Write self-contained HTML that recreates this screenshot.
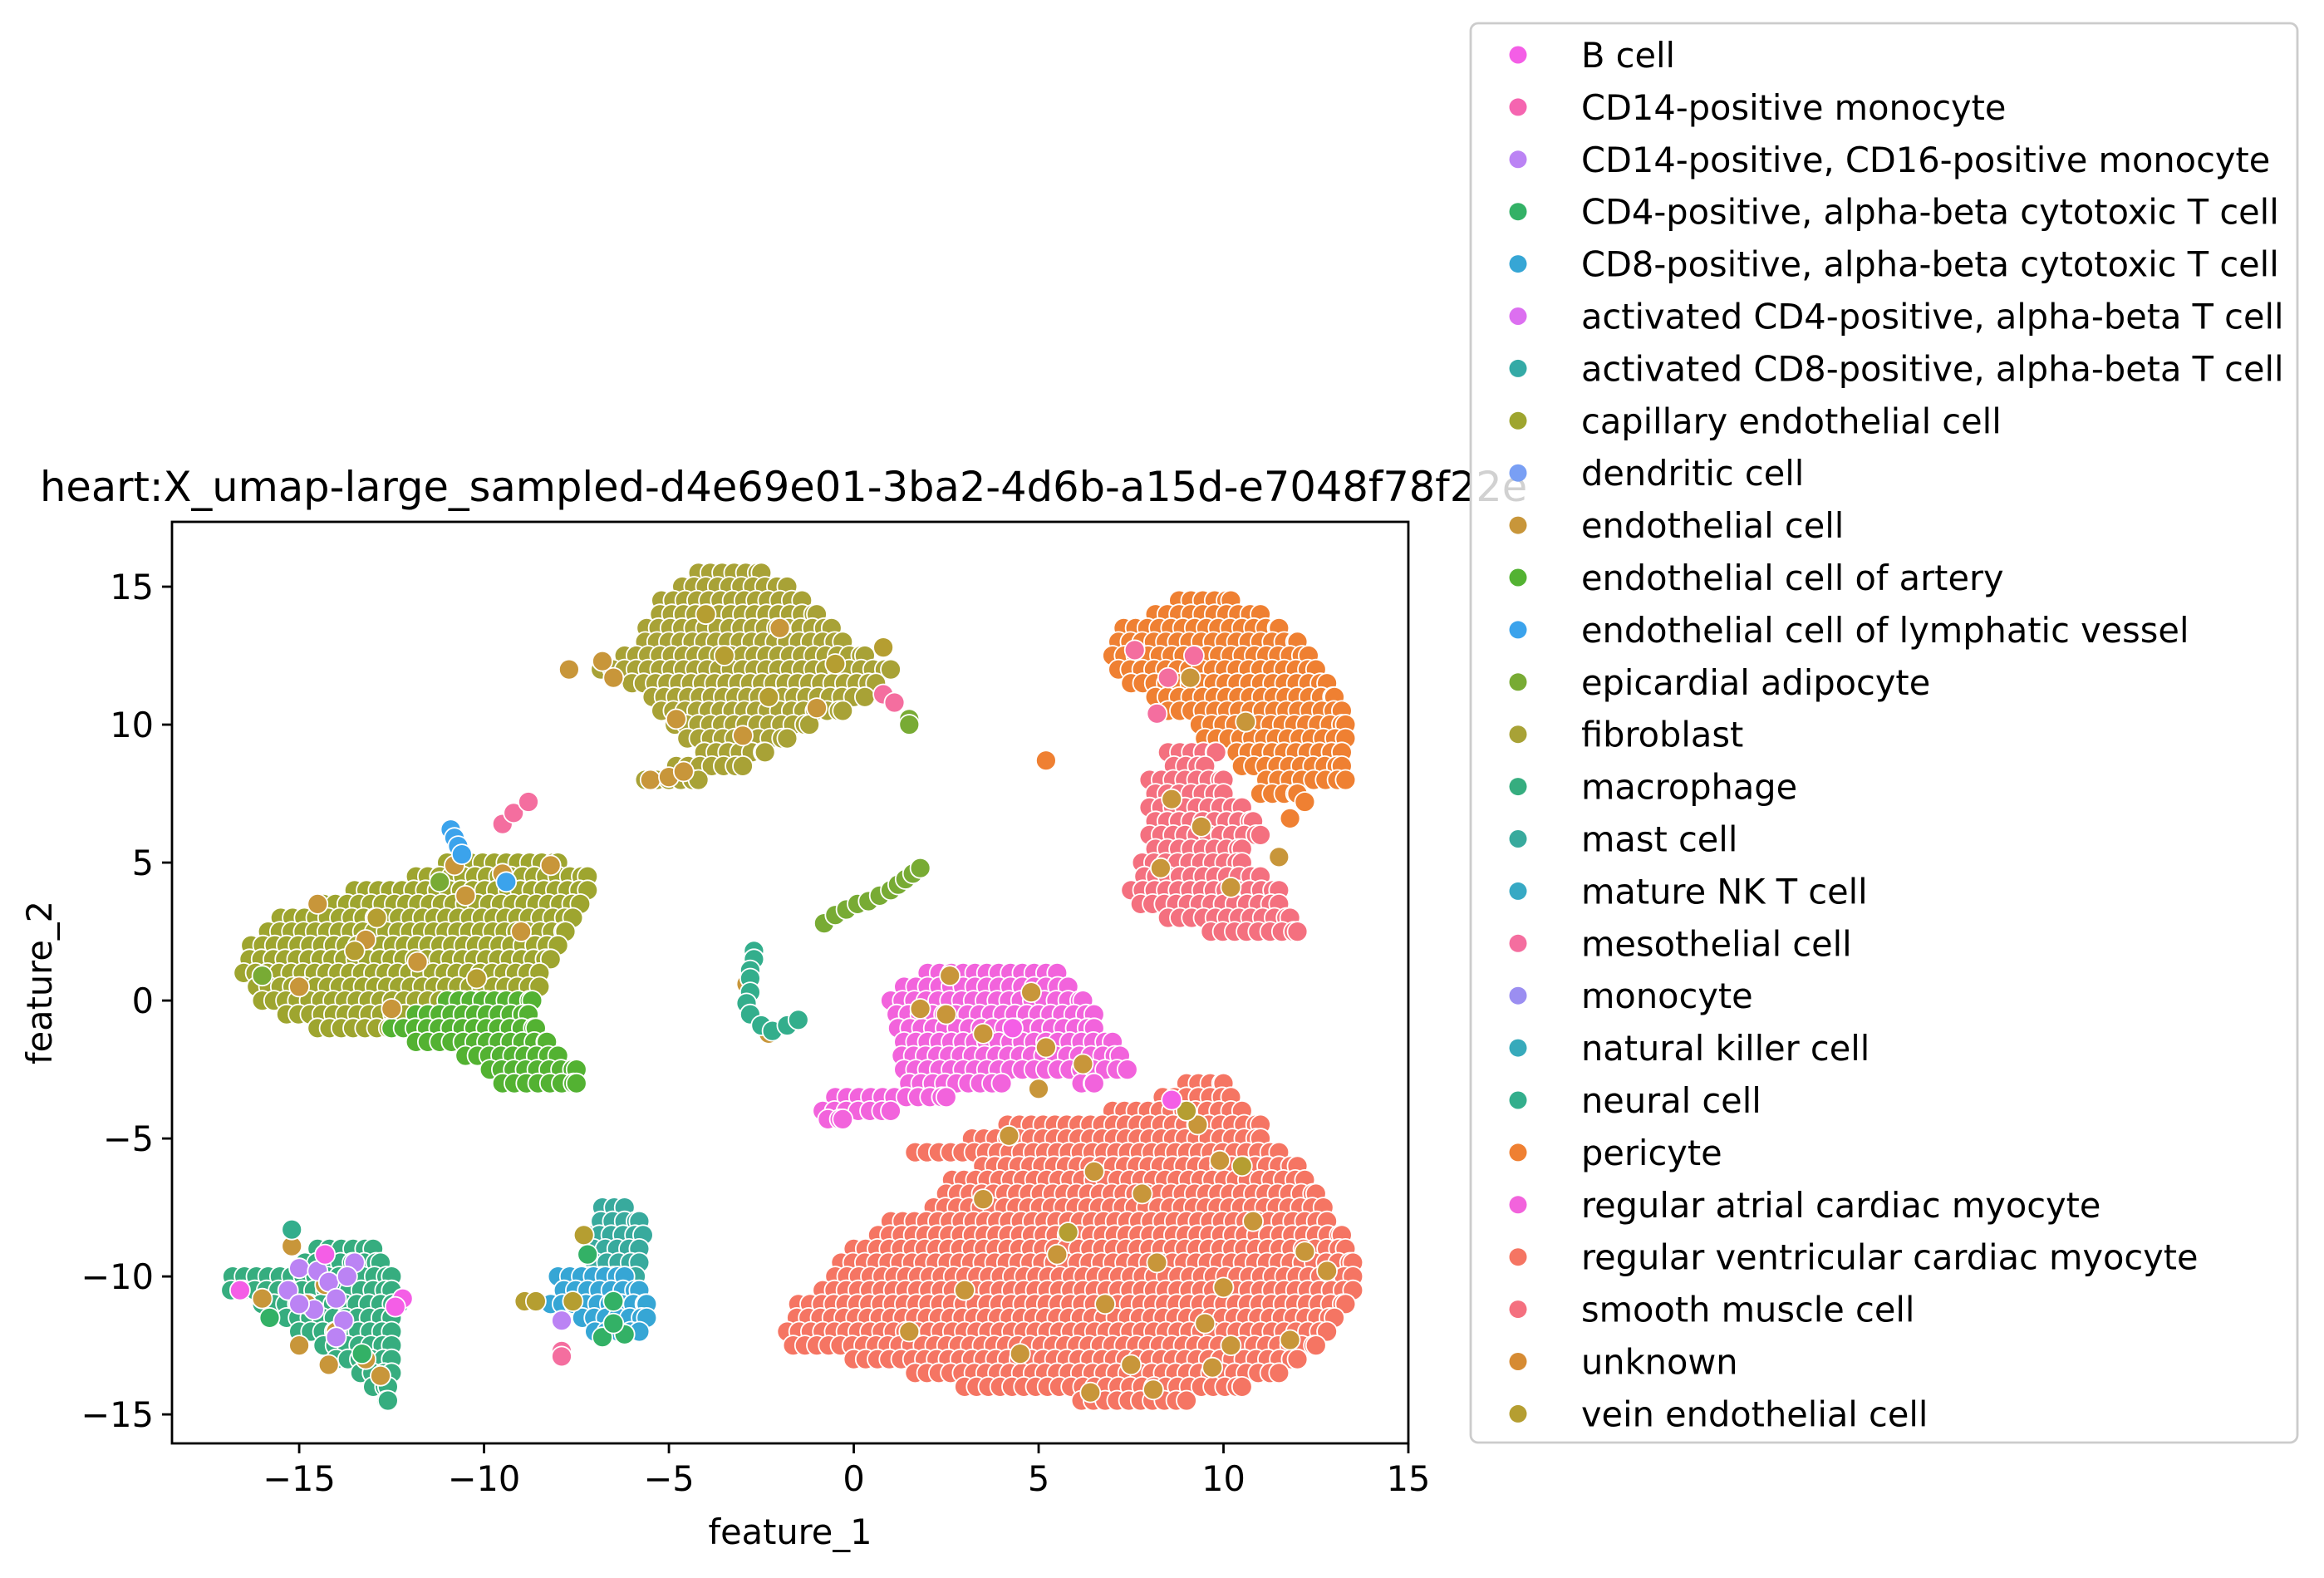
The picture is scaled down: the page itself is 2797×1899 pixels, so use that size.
<!DOCTYPE html>
<html><head><meta charset="utf-8"><style>
html,body{margin:0;padding:0;background:#fff;}
svg{display:block;font-family:"DejaVu Sans","Liberation Sans",sans-serif;}
</style></head><body>
<svg id="chart" width="2797" height="1899" viewBox="0 0 2797 1899" xmlns="http://www.w3.org/2000/svg">
<text x="48" y="603" font-size="49.5" fill="#000">heart:X_umap-large_sampled-d4e69e01-3ba2-4d6b-a15d-e7048f78f22e</text>
<g id="plot"></g>
<g id="axes"></g>
<g id="legend"></g>
</svg>
<script>
const categories = ["B cell","CD14-positive monocyte","CD14-positive, CD16-positive monocyte","CD4-positive, alpha-beta cytotoxic T cell","CD8-positive, alpha-beta cytotoxic T cell","activated CD4-positive, alpha-beta T cell","activated CD8-positive, alpha-beta T cell","capillary endothelial cell","dendritic cell","endothelial cell","endothelial cell of artery","endothelial cell of lymphatic vessel","epicardial adipocyte","fibroblast","macrophage","mast cell","mature NK T cell","mesothelial cell","monocyte","natural killer cell","neural cell","pericyte","regular atrial cardiac myocyte","regular ventricular cardiac myocyte","smooth muscle cell","unknown","vein endothelial cell"];
const colors = ["#f45ee6","#f565b0","#bb83f4","#33b166","#36a6d5","#dc6ff0","#34aaa6","#9ea52f","#799ff4","#c8963a","#53b232","#3ba3ec","#78ab34","#a8a236","#36ad7f","#38aa9d","#37a9c4","#f46e9f","#9b8ef1","#37aabb","#33ae8c","#ef8032","#f263dc","#f57563","#f4707f","#d68b33","#b59e31"];
const xTicks = [-15,-10,-5,0,5,10,15];
const yTicks = [-15,-10,-5,0,5,10,15];
// cluster spans: [y, xStart, xEnd]
const fibroblastSpans = [[15.5,-4.2,-2.5],[15,-4.8,-1.8],[14.5,-5.2,-1.4],[14,-5.4,-1.0],[13.5,-5.6,-0.6],[13,-5.8,-0.3],[12.5,-6.2,0.3],[12,-7,1.0],[11.5,-6.0,0.6],[11,-5.6,0.3],[10.5,-5.2,-0.3],[10,-5,-1.2],[9.5,-4.5,-1.8],[9,-4.2,-2.4],[8.5,-4.8,-3],[8,-5.8,-4.2]];
const capillarySpans = [[5,-11,-8],[4.5,-12,-7.2],[4,-13.5,-7.2],[3.5,-14.5,-7.4],[3,-15.5,-7.6],[2.5,-16,-7.8],[2,-16.3,-8],[1.5,-16.5,-8.2],[1,-16.5,-8.5],[0.5,-16.3,-8.5],[0,-16,-9.5],[-0.5,-15.5,-11.5],[-1,-14.5,-12.5]];
const arterySpans = [[0,-11,-8.7],[-0.5,-12,-8.8],[-1,-12.5,-8.6],[-1.5,-12,-8.3],[-2,-10.5,-8],[-2.5,-10,-7.5],[-3,-9.5,-7.5]];
const atrialSpans = [[1,2,5.5],[0.5,1.2,5.8],[0,1,6.2],[-0.5,1,6.5],[-1,1.2,6.5],[-1.5,1.2,7],[-2,1.3,7.2],[-2.5,1.2,7.4],[-3,1.5,4.0],[-3,6,6.5],[-3.5,-0.5,2.5],[-4,-1,1],[-4.3,-0.7,-0.3]];
const ventricularSpans = [[-3,9,10],[-3.5,8.2,10.2],[-4,7,10.5],[-4.5,4,11],[-5,3.2,11],[-5.5,1.5,11.5],[-6,3.5,12],[-6.5,2.5,12.2],[-7,2.5,12.5],[-7.5,2,12.7],[-8,1,12.8],[-8.5,0.5,13.2],[-9,0,13.3],[-9.5,-0.5,13.5],[-10,-0.5,13.5],[-10.5,-1,13.5],[-11,-1.5,13.3],[-11.5,-1.7,13],[-12,-1.8,12.8],[-12.5,-1.8,12.5],[-13,0,12],[-13.5,1.5,11.5],[-14,3,10.5],[-14.5,6,9]];
const pericyteSpans = [[14.5,8.8,10.2],[14,8,11],[13.5,7.3,11.5],[13,7,12],[12.5,7,12.3],[12,7,12.5],[11.5,7.5,12.8],[11,8,13],[10.5,8.5,13.2],[10,9.2,13.3],[9.5,9.5,13.3],[9,10.2,13.2],[8.5,10.5,13.2],[8,11,13.3],[7.5,11,12]];
const smoothSpans = [[9,8.5,9.8],[8.5,8.5,9.5],[8,8,10],[7.5,8,10],[7,8,10.5],[6.5,8,10.8],[6,8,11],[5.5,8,10.5],[5,7.8,10.5],[4.5,7.7,11],[4,7.5,11.5],[3.5,7.6,11.5],[3,8.5,11.8],[2.5,9.5,12]];
const macrophageSpans = [[-9,-14.5,-13],[-9.5,-15,-12.8],[-10,-16.8,-12.5],[-10.5,-17,-12.5],[-11,-16,-12.3],[-11.5,-15.5,-12.5],[-12,-15,-12.5],[-12.5,-14.5,-12.5],[-13,-14,-12.5],[-13.5,-13.5,-12.5],[-14,-13,-12.6],[-14.5,-12.8,-12.6]];
const mastSpans = [[-7.5,-6.8,-6.2],[-8,-7,-5.8],[-8.5,-7.2,-5.7],[-9,-7.2,-5.8],[-9.5,-7,-5.8],[-10,-7.3,-5.9]];
const cd8Spans = [[-10,-8,-6.2],[-10.5,-8,-5.8],[-11,-8.2,-5.6],[-11.5,-7.5,-5.6],[-12,-7,-5.8]];
// individual points: [x, y]
const endothelialPts = [[-7.7,12],[-6.5,11.7],[-4.8,10.2],[-5.5,8.0],[-5.0,8.1],[-4.6,8.3],[-3,9.6],[-1,10.6],[-6.8,12.3],[-2,13.5],[-14.5,3.5],[-13.2,2.2],[-11.8,1.4],[-10.5,3.8],[-9.5,4.6],[-8.2,4.9],[-12.5,-0.3],[-15,0.5],[-9,2.5],[-10.8,4.9],[-2.9,0.6],[-2.3,-1.2],[2.5,-0.5],[3.5,-1.2],[5.2,-1.7],[4.8,0.3],[6.2,-2.3],[5,-3.2],[2.6,0.9],[1.8,-0.3],[9.3,-4.5],[9.9,-5.8],[6.5,-6.2],[7.8,-7.0],[3.5,-7.2],[5.5,-9.2],[8.2,-9.5],[10.8,-8],[12.2,-9.1],[3,-10.5],[6.8,-11],[9.5,-11.7],[1.5,-12],[4.5,-12.8],[7.5,-13.2],[10.2,-12.5],[11.8,-12.3],[8.1,-14.1],[6.4,-14.2],[9.7,-13.3],[12.8,-9.8],[4.2,-4.9],[10,-10.4],[8.3,4.8],[9.4,6.3],[11.5,5.2],[10.2,4.1],[8.6,7.3],[9.1,11.7],[10.6,10.1],[-15.2,-8.9],[-14.8,-11],[-14,-12],[-15,-12.5],[-13.2,-13],[-14.2,-13.2],[-12.8,-13.6],[-16,-10.8],[-14.3,-10.3]];
const veinPts = [[-3.5,12.5],[-2.3,11],[-4,14],[-0.5,12.2],[0.8,12.8],[-13.5,1.8],[-10.2,0.8],[-12.9,3],[-8.9,-10.9],[-8.6,-10.9],[-7.3,-8.5],[-7.6,-10.9],[9,-4],[5.8,-8.4],[10.5,-6]];
const mesoPts = [[0.8,11.1],[1.1,10.8],[-9.5,6.4],[-9.2,6.8],[-8.8,7.2],[-7.9,-12.7],[-7.9,-12.9],[7.6,12.7],[8.5,11.7],[8.2,10.4],[9.2,12.5]];
const epicardialPts = [[1.5,10.2],[1.5,10.0],[-0.8,2.8],[-0.5,3.1],[-0.2,3.3],[0.1,3.5],[0.4,3.6],[0.7,3.8],[1.0,4.0],[1.2,4.2],[1.4,4.4],[1.6,4.6],[1.8,4.8],[-16,0.9],[-11.2,4.3]];
const neuralPts = [[-2.7,1.8],[-2.7,1.5],[-2.8,1.1],[-2.8,0.8],[-2.8,0.3],[-2.9,-0.1],[-2.8,-0.5],[-2.5,-0.9],[-2.2,-1.1],[-1.8,-0.9],[-1.5,-0.7],[-15.2,-8.3]];
const lymphPts = [[-10.9,6.2],[-10.8,5.9],[-10.7,5.6],[-10.6,5.3],[-9.4,4.3]];
const lavenderPts = [[-15,-9.7],[-14.5,-9.8],[-14.2,-10.2],[-15.3,-10.5],[-14,-10.8],[-14.6,-11.2],[-13.8,-11.6],[-15,-11],[-13.5,-9.5],[-14,-12.2],[-13.7,-10],[-7.9,-11.6]];
const bcellPts = [[-16.6,-10.5],[-12.2,-10.8],[-12.4,-11.1],[-14.3,-9.2],[8.6,-3.6],[4.3,-1]];
const cd4Pts = [[-6.5,-10.9],[-6.8,-12.2],[-6.2,-12.1],[-6.5,-11.7],[-7.2,-9.2],[-13.3,-12.8],[-15.8,-11.5]];
const pericytePts = [[5.2,8.7],[12.2,7.2],[11.8,6.6]];

const X0=207, X1=1695, Y0=628, Y1=1737;
const xMin=-18.44, xMax=15, yMin=-16.05, yMax=17.35;
function sx(v){return X0+(v-xMin)/(xMax-xMin)*(X1-X0);}
function sy(v){return Y1-(v-yMin)/(yMax-yMin)*(Y1-Y0);}
const NS="http://www.w3.org/2000/svg";
const plot=document.getElementById('plot');
function dot(x,y,ci){
  const c=document.createElementNS(NS,'circle');
  c.setAttribute('cx',sx(x).toFixed(1));c.setAttribute('cy',sy(y).toFixed(1));
  c.setAttribute('r',12);c.setAttribute('fill',colors[ci]);
  c.setAttribute('stroke','#fff');c.setAttribute('stroke-width',1.8);
  
  
  plot.appendChild(c);
}
function spans(list,ci){
  list.forEach((s,ri)=>{
    const off=(ri%2)*0.16;
    for(let x=s[1]+off;x<=s[2]+0.001;x+=0.32){dot(x,s[0],ci);}
    dot(s[2],s[0],ci);
  });
}
function pts(list,ci){list.forEach(p=>dot(p[0],p[1],ci));}
const idx=n=>categories.indexOf(n);
spans(fibroblastSpans,idx("fibroblast"));
spans(capillarySpans,idx("capillary endothelial cell"));
spans(arterySpans,idx("endothelial cell of artery"));
spans(pericyteSpans,idx("pericyte"));
spans(smoothSpans,idx("smooth muscle cell"));
spans(atrialSpans,idx("regular atrial cardiac myocyte"));
spans(ventricularSpans,idx("regular ventricular cardiac myocyte"));
spans(macrophageSpans,idx("macrophage"));
spans(mastSpans,idx("mast cell"));
spans(cd8Spans,idx("CD8-positive, alpha-beta cytotoxic T cell"));
pts(endothelialPts,idx("endothelial cell"));
pts(veinPts,idx("vein endothelial cell"));
pts(mesoPts,idx("mesothelial cell"));
pts(epicardialPts,idx("epicardial adipocyte"));
pts(neuralPts,idx("neural cell"));
pts(lymphPts,idx("endothelial cell of lymphatic vessel"));
pts(lavenderPts,idx("CD14-positive, CD16-positive monocyte"));
pts(bcellPts,idx("B cell"));
pts(cd4Pts,idx("CD4-positive, alpha-beta cytotoxic T cell"));
pts(pericytePts,idx("pericyte"));

const axes=document.getElementById('axes');
function el(tag,attrs,text){const e=document.createElementNS(NS,tag);for(const k in attrs)e.setAttribute(k,attrs[k]);if(text!==undefined)e.textContent=text;return e;}
const frame=el('rect',{x:X0,y:Y0,width:X1-X0,height:Y1-Y0,fill:'none',stroke:'#000','stroke-width':2.8});


axes.appendChild(frame);
const fmt=v=>v<0?'\u2212'+Math.abs(v):String(v);
xTicks.forEach(v=>{
  const x=sx(v);
  const t=el('line',{x1:x,x2:x,y1:Y1,y2:Y1+12,stroke:'#000','stroke-width':2.8});
  
  
  axes.appendChild(t);
  const l=el('text',{x:x,y:Y1+57,'font-size':41.5,'text-anchor':'middle'},fmt(v));
  
  
  axes.appendChild(l);
});
yTicks.forEach(v=>{
  const y=sy(v);
  const t=el('line',{x1:X0-12,x2:X0,y1:y,y2:y,stroke:'#000','stroke-width':2.8});
  
  
  axes.appendChild(t);
  const l=el('text',{x:X0-22,y:y+15,'font-size':41.5,'text-anchor':'end'},fmt(v));
  
  
  axes.appendChild(l);
});
const xl=el('text',{x:(X0+X1)/2,y:1858,'font-size':41.5,'text-anchor':'middle'},'feature_1');


axes.appendChild(xl);
const yl=el('text',{x:0,y:0,'font-size':41.5,'text-anchor':'middle',transform:'translate(62,'+((Y0+Y1)/2)+') rotate(-90)'},'feature_2');


axes.appendChild(yl);

const leg=document.getElementById('legend');
const box=el('rect',{x:1770,y:28,width:995,height:1708,rx:9,fill:'rgba(255,255,255,0.82)',stroke:'#cccccc','stroke-width':2.8});


leg.appendChild(box);
categories.forEach((c,i)=>{
  const y=66+i*62.9;
  const g=el('g',{});
  
  
  g.appendChild(el('circle',{cx:1827,cy:y,r:10.5,fill:colors[i]}));
  g.appendChild(el('text',{x:1903,y:y+15,'font-size':41.5},c));
  leg.appendChild(g);
});
</script>
</body></html>
